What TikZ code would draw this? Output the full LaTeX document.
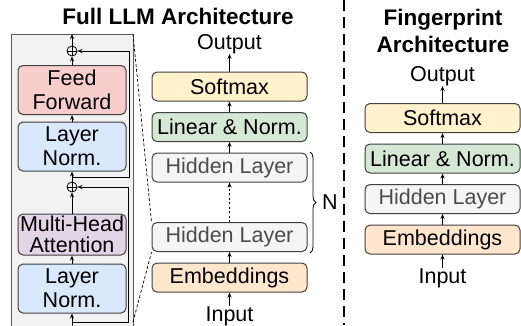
\documentclass[tikz,border=0pt]{standalone}
\usepackage{fontspec}
\setmainfont{Liberation Sans}
\usetikzlibrary{arrows.meta,decorations.pathreplacing}

\definecolor{ffred}{HTML}{F8CECC}
\definecolor{lnblue}{HTML}{DAE8FC}
\definecolor{mhapurple}{HTML}{E1D5E7}
\definecolor{smyellow}{HTML}{FFF2CC}
\definecolor{lingreen}{HTML}{D5E8D4}
\definecolor{hidgray}{HTML}{F5F5F5}
\definecolor{emborange}{HTML}{FFE6CC}
\definecolor{panelgray}{HTML}{F2F2F2}

\tikzset{
  blk/.style={draw=black!75, line width=1pt, rounded corners=5pt, inner sep=1pt,
    minimum height=29pt, font=\fontsize{21.5}{24}\selectfont, align=center},
  colblk/.style={blk, minimum width=155pt},
  panblk/.style={blk, minimum width=108pt, minimum height=49pt},
  plain/.style={inner sep=0pt, font=\fontsize{21.5}{24}\selectfont},
  ttl/.style={inner sep=0pt, align=center, font=\fontsize{22.5}{27}\selectfont\bfseries},
  addop/.style={draw=black, line width=0.8pt, circle, minimum size=10pt, inner sep=0pt},
  flow/.style={line width=0.9pt, -{Stealth[length=5pt,width=4pt]}}
}

\begin{document}
\begin{tikzpicture}[x=1pt, y=-1pt]
			%%%%% START %%%%%
			\useasboundingbox (0, 0) rectangle (521, 325);
			
			% decoder block, cut off at the bottom
			\coordinate (pantl) at (11, 34);
			\coordinate (pantr) at (133, 34);
			\coordinate (panbr) at (133, 322);
			\fill[panelgray] (11, 330) rectangle (133, 34);
			\draw[line width=0.9pt, black!65] (11, 330) -- (pantl) -- (pantr) -- (133, 330);
			
			\node[panblk, fill=ffred] (ff) at (72, 90) {Feed\\Forward};
			\node[panblk, fill=lnblue] (lnup) at (72, 146.5) {Layer\\Norm.};
			\node[panblk, fill=mhapurple, minimum height=41pt, inner sep=0pt,
			  font=\fontsize{21.5}{20.5}\selectfont] (mha) at (72, 234.5) {Multi-Head\\Attention};
			\node[panblk, fill=lnblue] (lndn) at (72, 288.5) {Layer\\Norm.};
			
			\node[addop] (addup) at (72, 51) {};
			\node[addop] (adddn) at (72, 187) {};
			\draw[line width=0.7pt] (addup.north) -- (addup.south) (addup.west) -- (addup.east);
			\draw[line width=0.7pt] (adddn.north) -- (adddn.south) (adddn.west) -- (adddn.east);
			
			\coordinate (blkin) at (72, 326);
			\coordinate (blkout) at (72, 34);
			\coordinate (skipdn) at (72, 322);
			\coordinate (skipup) at (72, 177);
			
			\draw[flow] (blkin) -- (lndn);
			\draw[flow] (lndn) -- (mha);
			\draw[flow] (mha) -- (adddn);
			\draw[flow] (adddn) -- (lnup);
			\draw[flow] (lnup) -- (ff);
			\draw[flow] (ff) -- (addup);
			\draw[flow] (addup) -- (blkout);
			
			% residual connections
			\draw[flow] (skipdn) -- (128, 322) -- (128, 187) -- (adddn);
			\draw[flow] (skipup) -- (129.5, 177) -- (129.5, 51) -- (addup);
			
			%%%%% FULL MODEL %%%%%
			\node[ttl] (fulltitle) at (178, 16) {Full LLM Architecture};
			
			\node[plain] (outfull) at (229.5, 44) {Output};
			\node[colblk, fill=smyellow] (smfull) at (229.5, 86.5) {Softmax};
			\node[colblk, fill=lingreen] (linfull) at (229.5, 127) {Linear \& Norm.};
			\node[colblk, fill=hidgray, text=black!70] (hidtop) at (229.5, 167.5) {Hidden Layer};
			\node[colblk, fill=hidgray, text=black!70] (hidbot) at (229.5, 237) {Hidden Layer};
			\node[colblk, fill=emborange] (embfull) at (229.5, 277.5) {Embeddings};
			\node[plain] (infull) at (229.5, 316) {Input};
			
			\draw[flow] (infull) -- (embfull);
			\draw[flow] (embfull) -- (hidbot);
			\draw[line width=1.8pt, dash pattern=on 2pt off 2.5pt, -{Stealth[length=5pt,width=4pt]}]
			  (hidbot) -- (hidtop);
			\draw[flow] (hidtop) -- (linfull);
			\draw[flow] (linfull) -- (smfull);
			\draw[flow] (smfull) -- (outfull);
			
			\draw[line width=0.8pt, decorate, decoration={brace, amplitude=6pt}]
			  (310, 152) -- (310, 253);
			\node[plain] (nrep) at (330, 202.5) {N};
			
			% zoom lines onto one hidden layer
			\draw[line width=0.7pt, dash pattern=on 3pt off 2pt] (pantr) -- (hidbot.north west);
			\draw[line width=0.7pt, dash pattern=on 3pt off 2pt] (panbr) -- (hidbot.south west);
			
			% separator
			\draw[line width=2.5pt, dash pattern=on 11pt off 6pt] (344, 0) -- (344, 325);
			
			%%%%% FINGERPRINT MODEL %%%%%
			\node[ttl] (fptitle) at (443, 31) {Fingerprint\\Architecture};
			
			\node[plain] (outfp) at (442.5, 76) {Output};
			\node[colblk, fill=smyellow] (smfp) at (442.5, 118) {Softmax};
			\node[colblk, fill=lingreen] (linfp) at (442.5, 158.5) {Linear \& Norm.};
			\node[colblk, fill=hidgray, text=black!70] (hidfp) at (442.5, 199) {Hidden Layer};
			\node[colblk, fill=emborange] (embfp) at (442.5, 239.5) {Embeddings};
			\node[plain] (infp) at (442.5, 278) {Input};
			
			\draw[flow] (infp) -- (embfp);
			\draw[flow] (embfp) -- (hidfp);
			\draw[flow] (hidfp) -- (linfp);
			\draw[flow] (linfp) -- (smfp);
			\draw[flow] (smfp) -- (outfp);
			
			%%%%% END %%%%%
\end{tikzpicture}
\end{document}
